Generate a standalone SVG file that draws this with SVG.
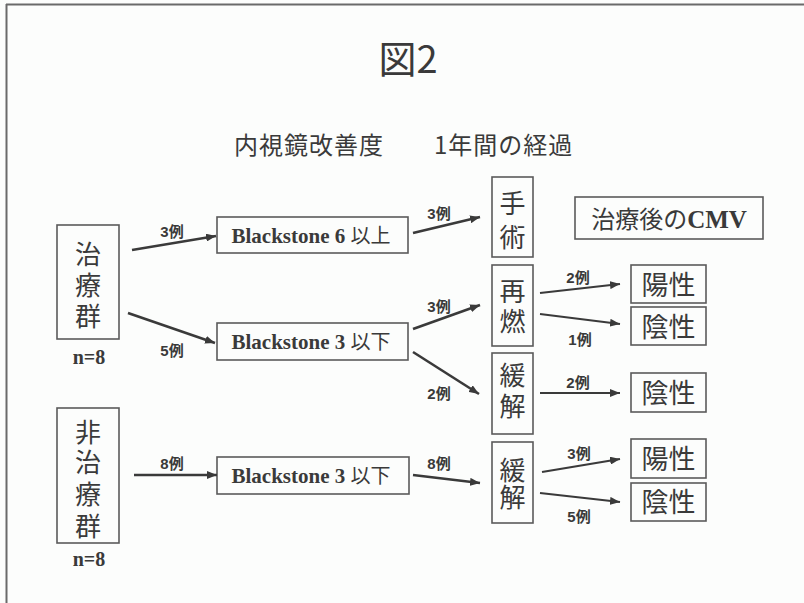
<svg xmlns="http://www.w3.org/2000/svg" width="804" height="603" viewBox="0 0 804 603">
<defs>
<marker id="ah" viewBox="0 0 10 8" refX="10" refY="4" markerWidth="10" markerHeight="8" markerUnits="userSpaceOnUse" orient="auto">
<path d="M0,0 L10,4 L0,8 Z" fill="#3a3a3a"/>
</marker>
</defs>
<style>
.box{fill:none;stroke:#5a5a5a;stroke-width:1.6}
.v{font-family:"Noto Sans CJK JP","Noto Sans CJK SC",sans-serif;font-size:26px;fill:#3a3a3a;text-anchor:middle}
.bs{font-family:"Liberation Serif","Noto Sans CJK JP",serif;font-weight:bold;font-size:21px;fill:#3a3a3a}
.jp{font-family:"Noto Sans CJK JP",sans-serif;font-weight:normal;font-size:20px}
.n{font-family:"Liberation Serif",serif;font-weight:bold;font-size:20px;fill:#3a3a3a;text-anchor:middle}
.lb{font-family:"Liberation Sans","Noto Sans CJK JP",sans-serif;font-weight:bold;font-size:15px;fill:#3a3a3a;text-anchor:middle}
.pn{font-family:"Noto Sans CJK JP","Noto Sans CJK SC",sans-serif;font-size:27px;fill:#3a3a3a;text-anchor:middle}
.ar{fill:none;stroke:#3a3a3a;stroke-width:2.6;marker-end:url(#ah)}
.ar2{fill:none;stroke:#3a3a3a;stroke-width:2;marker-end:url(#ah)}
</style>
<rect x="0" y="0" width="804" height="603" fill="#fcfdfc"/>
<line x1="6" y1="4.5" x2="804" y2="4.5" stroke="#6a6a6a" stroke-width="2"/>
<line x1="6.5" y1="4" x2="6.5" y2="603" stroke="#6a6a6a" stroke-width="2"/>

<g id="title">
<text x="408" y="73" font-family="'Noto Sans CJK JP',sans-serif" font-size="38" fill="#3a3a3a" text-anchor="middle">図2</text>
</g>
<g id="subtitle">
<text x="234" y="154" font-family="'Noto Sans CJK JP',sans-serif" font-size="24" fill="#3a3a3a" letter-spacing="1">内視鏡改善度</text>
<text x="434" y="154" font-family="'Noto Sans CJK JP',sans-serif" font-size="24" fill="#3a3a3a" letter-spacing="1">1年間の経過</text>
</g>

<g id="treated">
<rect class="box" x="57" y="225" width="62" height="114"/>
<text class="v"><tspan x="88" y="264">治</tspan><tspan x="88" y="295">療</tspan><tspan x="88" y="326">群</tspan></text>
<text class="n" x="89" y="364">n=8</text>
</g>
<g id="untreated">
<rect class="box" x="57" y="408" width="62" height="135"/>
<text class="v"><tspan x="88" y="442">非</tspan><tspan x="88" y="472">治</tspan><tspan x="88" y="504">療</tspan><tspan x="88" y="536">群</tspan></text>
<text class="n" x="89" y="566">n=8</text>
</g>

<g id="bs6">
<rect class="box" x="217" y="217" width="191" height="36"/>
<text class="bs" x="311" y="243" text-anchor="middle">Blackstone 6 <tspan class="jp">以上</tspan></text>
</g>
<g id="bs3a">
<rect class="box" x="217" y="323" width="191" height="37"/>
<text class="bs" x="311" y="349" text-anchor="middle">Blackstone 3 <tspan class="jp">以下</tspan></text>
</g>
<g id="bs3b">
<rect class="box" x="217" y="457" width="192" height="37"/>
<text class="bs" x="311" y="483" text-anchor="middle">Blackstone 3 <tspan class="jp">以下</tspan></text>
</g>

<g id="surgery">
<rect class="box" x="492" y="177" width="41" height="80"/>
<text class="v"><tspan x="512.5" y="213">手</tspan><tspan x="512.5" y="247">術</tspan></text>
</g>
<g id="relapse">
<rect class="box" x="492" y="265" width="41" height="81"/>
<text class="v"><tspan x="512.5" y="301">再</tspan><tspan x="512.5" y="331">燃</tspan></text>
</g>
<g id="remission1">
<rect class="box" x="492" y="353" width="41" height="81"/>
<text class="v"><tspan x="512.5" y="385">緩</tspan><tspan x="512.5" y="416">解</tspan></text>
</g>
<g id="remission2">
<rect class="box" x="492" y="442" width="41" height="81"/>
<text class="v"><tspan x="512.5" y="480">緩</tspan><tspan x="512.5" y="507">解</tspan></text>
</g>

<g id="cmv">
<rect class="box" x="575" y="197" width="188" height="42"/>
<text x="669" y="228" font-size="24" fill="#3a3a3a" text-anchor="middle"><tspan font-family="'Noto Sans CJK JP',sans-serif">治療後の</tspan><tspan font-family="'Liberation Serif',serif" font-weight="bold" font-size="25">CMV</tspan></text>
</g>

<g id="pos1">
<rect class="box" x="631" y="265" width="75" height="38"/>
<text class="pn" x="668.5" y="295">陽性</text>
</g>
<g id="neg1">
<rect class="box" x="631" y="307" width="75" height="38"/>
<text class="pn" x="668.5" y="337">陰性</text>
</g>
<g id="neg2">
<rect class="box" x="631" y="373" width="75" height="39"/>
<text class="pn" x="668.5" y="403">陰性</text>
</g>
<g id="pos2">
<rect class="box" x="631" y="439" width="75" height="39"/>
<text class="pn" x="668.5" y="469">陽性</text>
</g>
<g id="neg3">
<rect class="box" x="631" y="483" width="75" height="38"/>
<text class="pn" x="668.5" y="512">陰性</text>
</g>

<g id="connectors">
<line class="ar" x1="132" y1="250" x2="216" y2="236"/>
<line class="ar" x1="128" y1="313" x2="215" y2="343"/>
<line class="ar" x1="134" y1="475" x2="217" y2="475"/>
<line class="ar" x1="413" y1="233" x2="480" y2="217"/>
<line class="ar" x1="413" y1="329" x2="480" y2="305"/>
<line class="ar" x1="413" y1="352" x2="479" y2="394"/>
<line class="ar" x1="413" y1="475" x2="480" y2="483"/>
<line class="ar2" x1="540" y1="293" x2="620" y2="284"/>
<line class="ar2" x1="540" y1="314" x2="620" y2="324"/>
<line class="ar2" x1="540" y1="393" x2="620" y2="393"/>
<line class="ar2" x1="542" y1="472" x2="620" y2="459"/>
<line class="ar2" x1="540" y1="493" x2="620" y2="502"/>
<text class="lb" x="172" y="237">3例</text>
<text class="lb" x="172" y="356">5例</text>
<text class="lb" x="172" y="469">8例</text>
<text class="lb" x="439" y="219">3例</text>
<text class="lb" x="439" y="312">3例</text>
<text class="lb" x="439" y="399">2例</text>
<text class="lb" x="439" y="469">8例</text>
<text class="lb" x="578" y="283">2例</text>
<text class="lb" x="580" y="345">1例</text>
<text class="lb" x="578" y="388">2例</text>
<text class="lb" x="579" y="459">3例</text>
<text class="lb" x="579" y="522">5例</text>
</g>
</svg>
